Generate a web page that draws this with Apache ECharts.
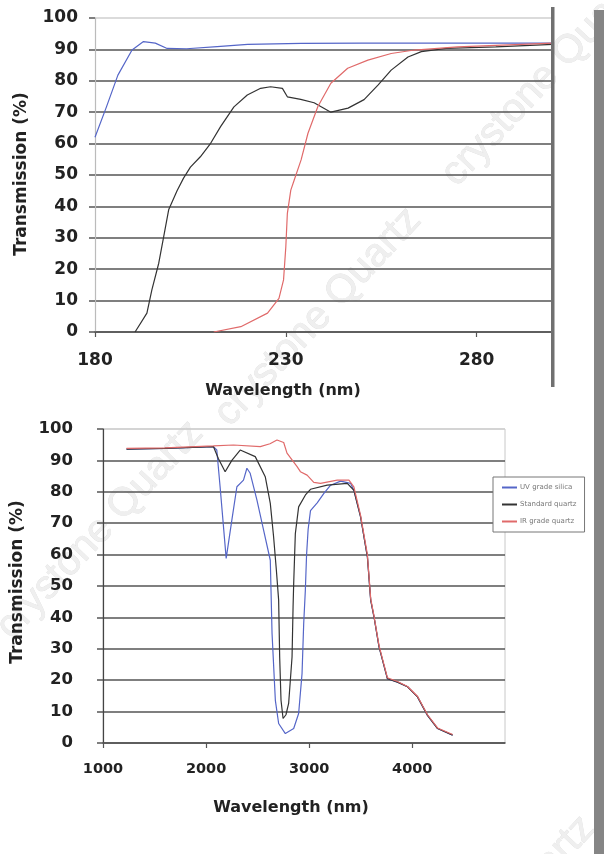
<!DOCTYPE html>
<html>
<head>
<meta charset="utf-8">
<script src="https://cdn.jsdelivr.net/npm/echarts@6/dist/echarts.min.js"></script>
<style>
  html, body { margin: 0; padding: 0; background: #fff; }
  #chart { width: 604px; height: 854px; }
</style>
</head>
<body>
<div id="chart"></div>
<script>
// series names (legend)
var seriesNames = ['UV grade silica', 'Standard quartz', 'IR grade quartz']

// top chart: wavelength (nm), transmission (%)
var topUV = [[180, 62], [183, 71.7], [186, 81.8], [189.7, 89.8], [192.7, 92.5], [195.8, 92], [198.9, 90.3],
  [204, 90.2], [212, 90.9], [220, 91.6], [234, 91.9], [250, 92], [270, 92], [300, 92]]
var topStd = [[190.5, 0], [193.6, 6], [194.9, 13.4], [196.7, 21.9], [198, 30.4], [199.3, 38.9], [201.5, 45],
  [203.2, 49], [205, 52.5], [207.6, 55.8], [210.3, 60.1], [212.9, 65.4], [216.4, 71.7], [219.9, 75.5],
  [223.4, 77.6], [226, 78.1], [229.1, 77.6], [230.4, 74.9], [233.9, 74.1], [237.4, 73], [241.8, 70],
  [246.3, 71.3], [250.5, 74], [254.2, 78.7], [257.6, 83.4], [262, 87.6], [265.5, 89.3], [272, 90.3],
  [285, 90.8], [300, 91.6]]
var topIR = [[211.1, 0], [218.2, 1.7], [225.2, 6], [228.2, 10.7], [229.4, 16.6], [230, 27.2], [230.4, 37.8],
  [231.3, 45.2], [232.2, 48.4], [234, 54.8], [235.8, 63.3], [238.4, 71.8], [241.8, 79.2], [246.2, 84],
  [251.5, 86.6], [257.6, 88.7], [263.7, 89.8], [275, 90.8], [290, 91.5], [300, 92]]

// bottom chart
var botUV = [[1228, 93.6], [1600, 93.8], [2071, 94.4], [2104, 93.3], [2136, 81.6], [2195, 58.8], [2250, 71],
  [2299, 81.6], [2363, 83.7], [2396, 87.5], [2428, 85.9], [2493, 77.4], [2558, 67.8], [2623, 58.2],
  [2640, 34.9], [2672, 13.6], [2704, 6.2], [2769, 3], [2850, 4.6], [2898, 9.4], [2931, 22.1], [2947, 38],
  [2963, 48.6], [2975, 60], [2990, 68], [3013, 74], [3078, 76.5], [3143, 79.5], [3208, 82.1], [3305, 83.4],
  [3402, 82.7], [3434, 80.5], [3499, 72], [3565, 59.3], [3597, 45.5], [3629, 40.2], [3678, 30.6],
  [3759, 20.5], [3857, 19.4], [3954, 17.9], [4051, 14.7], [4148, 8.8], [4246, 4.6], [4392, 2.5]]
var botStd = [[1228, 93.6], [1600, 93.8], [2071, 94.4], [2120, 90.5], [2185, 86.4], [2250, 90], [2331, 93.3],
  [2477, 91.2], [2574, 84.8], [2623, 76.3], [2655, 65.7], [2682, 55], [2704, 45.5], [2714, 27.4],
  [2727, 13.6], [2747, 7.8], [2775, 9], [2801, 12.6], [2834, 27.4], [2844, 43.4], [2850, 50.8],
  [2866, 66.7], [2898, 75.2], [2964, 79], [3013, 80.8], [3175, 82.1], [3370, 82.7], [3434, 80.5],
  [3499, 72], [3565, 59.3], [3597, 45.5], [3629, 40.2], [3678, 30.6], [3759, 20.5], [3857, 19.4],
  [3954, 17.9], [4051, 14.7], [4148, 8.8], [4246, 4.6], [4392, 2.5]]
var botIR = [[1228, 93.8], [1600, 94], [2071, 94.6], [2266, 94.9], [2526, 94.4], [2620, 95.3], [2688, 96.5],
  [2753, 95.7], [2785, 92.3], [2883, 88], [2915, 86.4], [2980, 85.3], [3045, 83], [3110, 82.7],
  [3272, 83.7], [3386, 83.7], [3434, 81.6], [3499, 72.5], [3565, 60], [3597, 46], [3629, 40.5],
  [3678, 31], [3759, 20.8], [3857, 19.6], [3954, 18], [4051, 14.9], [4148, 9], [4246, 4.8], [4392, 2.7]]

var colors = ['#5566c8', '#333333', '#e06a6a']
var gridColors = ['#555', '#555', '#555', '#555', '#555', '#555', '#555', '#555', '#555', '#555', '#cfcfcf']
var labelFont = 'DejaVu Sans'
var watermark = 'crystone Quartz'

var chart = echarts.init(document.getElementById('chart'))

function yAxis(gridIndex, lineColor, margin, size) {
  return {
    type: 'value', gridIndex: gridIndex, min: 0, max: 100, interval: 10,
    axisLine: { show: true, lineStyle: { color: lineColor, width: 1.2 } },
    axisTick: { show: true, length: 6, lineStyle: { color: '#555', width: 1.5 } },
    axisLabel: { margin: margin, fontSize: size, fontWeight: 'bold', fontFamily: labelFont, color: '#222' },
    splitLine: { show: true, lineStyle: { color: gridColors, width: 1.6 } }
  }
}

function xAxis(gridIndex, min, max, interval, margin, size) {
  return {
    type: 'value', gridIndex: gridIndex, min: min, max: max, interval: interval,
    axisLine: { show: true, lineStyle: { color: '#555', width: 1.6 } },
    axisTick: { show: true, length: 5, lineStyle: { color: '#555', width: 1.2 } },
    axisLabel: {
      margin: margin, fontSize: size, fontWeight: 'bold', fontFamily: labelFont, color: '#222', showMaxLabel: false,
      formatter: function (v) { return String(v) }
    },
    splitLine: { show: false }
  }
}

function line(name, data, idx, color) {
  return {
    name: name, type: 'line', xAxisIndex: idx, yAxisIndex: idx, data: data,
    showSymbol: false, smooth: false, animation: false,
    lineStyle: { color: color, width: 1.2 }, itemStyle: { color: color }
  }
}

function title(text, x, y, size, rot) {
  return {
    type: 'text', x: x, y: y, rotation: rot || 0, z: 10,
    style: { text: text, fill: '#222', font: 'bold ' + size + 'px "' + labelFont + '"', textAlign: 'center', textVerticalAlign: 'middle' }
  }
}

function mark(x, y) {
  return {
    type: 'text', x: x, y: y, rotation: 0.82, z: -1,
    style: { text: watermark, fill: '#efefef', stroke: '#dedede', lineWidth: 0.6, font: '40px "Liberation Sans"', textAlign: 'center', textVerticalAlign: 'middle' }
  }
}

chart.setOption({
  backgroundColor: '#fff',
  animation: false,
  grid: [
    { left: 95, top: 18, width: 458, height: 314 },
    { left: 103, top: 429, width: 402, height: 314, show: true, borderColor: '#c8c8c8', borderWidth: 1 }
  ],
  xAxis: [
    xAxis(0, 180, 300, 50, 20, 17),
    xAxis(1, 1000, 4900, 1000, 19, 14.5)
  ],
  yAxis: [
    yAxis(0, '#bbb', 17, 17),
    yAxis(1, '#444', 30, 16.5)
  ],
  legend: {
    data: seriesNames, orient: 'vertical', left: 493, top: 477,
    padding: [7, 8, 7, 9], itemGap: 10, itemWidth: 15, itemHeight: 2, icon: 'rect',
    borderColor: '#777', borderWidth: 1, backgroundColor: '#fff',
    textStyle: { fontSize: 7, fontFamily: labelFont, color: '#777', padding: [0, 0, 0, -2] },
    selectedMode: false
  },
  graphic: [
    mark(545, 77), mark(318, 317), mark(100, 530), mark(492, 925),
    title('Wavelength (nm)', 283, 391, 16),
    title('Transmission (%)', 22, 174, 17, Math.PI / 2),
    title('Wavelength (nm)', 291, 808, 16),
    title('Transmission (%)', 18, 582, 17, Math.PI / 2),
    { type: 'rect', shape: { x: 551, y: 7, width: 3.5, height: 380 }, style: { fill: '#707070' }, z: 10 },
    { type: 'rect', shape: { x: 594, y: 10, width: 10, height: 844 }, style: { fill: '#858585' }, z: 10 }
  ],
  series: [
    line(seriesNames[0], topUV, 0, colors[0]),
    line(seriesNames[1], topStd, 0, colors[1]),
    line(seriesNames[2], topIR, 0, colors[2]),
    line(seriesNames[0], botUV, 1, colors[0]),
    line(seriesNames[1], botStd, 1, colors[1]),
    line(seriesNames[2], botIR, 1, colors[2])
  ]
})
</script>
</body>
</html>
